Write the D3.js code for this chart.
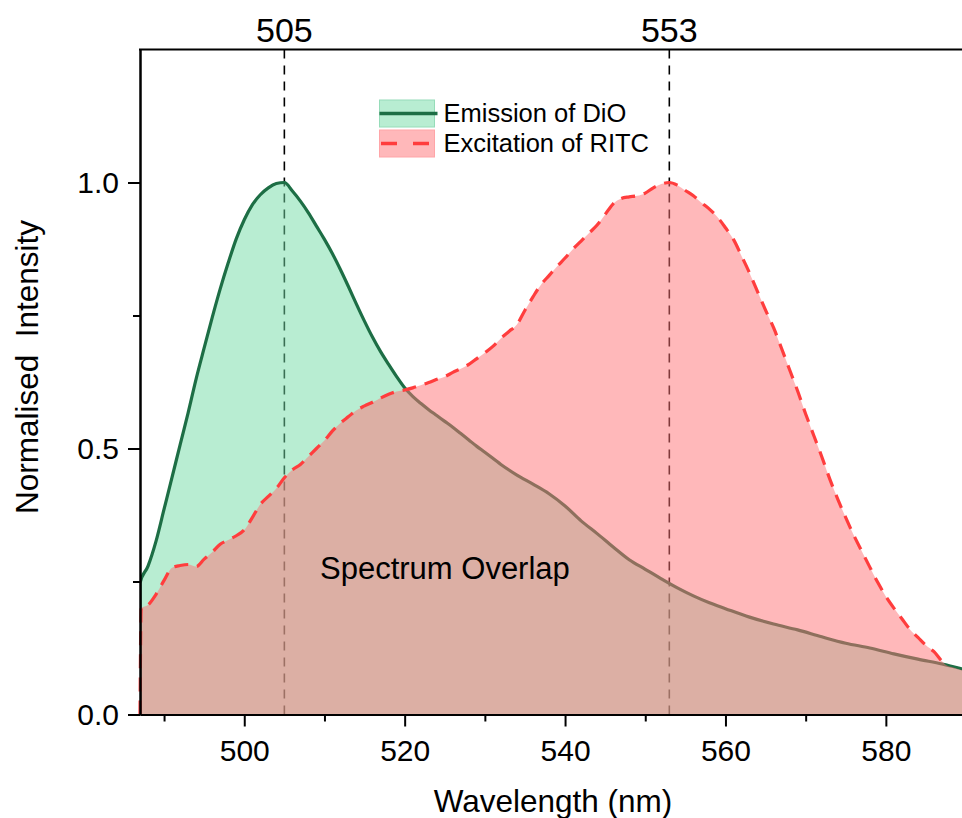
<!DOCTYPE html>
<html>
<head>
<meta charset="utf-8">
<script src="https://cdn.jsdelivr.net/npm/d3@7"></script>
<style>
    body { margin: 0; background: #fff; }
    svg { display: block; font-family: Arial, "Liberation Sans", sans-serif; }
</style>
</head>
<body>
<script>
const width = 962;
const height = 818;

// DiO emission
const dioWavelength = [487, 487, 488, 489, 490, 491, 492, 493, 494, 495, 496, 497, 498, 499, 500, 501, 502, 503, 504, 505,
    506, 507, 508, 509, 510, 511, 512, 513, 514, 515, 516, 517, 518, 519, 520, 521, 522, 523, 524, 525, 526, 527, 528, 529, 530,
    532, 534, 536, 538, 540, 542, 544, 546, 548, 550, 552, 554, 556, 558, 560, 563, 566, 569, 572, 575, 578, 581, 584, 587, 590];
const dioIntensity = [0, 0.247, 0.279, 0.326, 0.386, 0.446, 0.507, 0.567, 0.631, 0.689, 0.746, 0.800, 0.849, 0.894, 0.930, 0.958, 0.977, 0.990, 0.998, 1.0,
    0.984, 0.965, 0.943, 0.918, 0.893, 0.866, 0.836, 0.804, 0.771, 0.739, 0.709, 0.682, 0.658, 0.635, 0.614, 0.598, 0.585, 0.573, 0.562, 0.551, 0.540, 0.528, 0.516, 0.504, 0.493,
    0.470, 0.450, 0.433, 0.415, 0.392, 0.364, 0.340, 0.315, 0.291, 0.273, 0.255, 0.238, 0.223, 0.210, 0.199, 0.183, 0.170, 0.159, 0.146, 0.134, 0.125, 0.114, 0.104, 0.095, 0.084];

// RITC excitation; the last three points only carry the fill past the end of the dashed line
const ritcWavelength = [487, 487.15, 488, 489, 490, 491, 492, 493, 494, 495, 496, 497, 498, 499, 500, 501, 502, 503, 504, 505, 506, 507,
    508, 509, 510, 511, 512, 513, 514, 515, 516, 517, 518, 519, 520, 521, 522, 523, 524, 525, 526, 527, 528, 529, 530, 531, 532, 533, 534, 535,
    536, 537, 538, 539, 540, 541, 542, 543, 544, 545, 546, 547, 548, 549, 550, 551, 552, 553, 554, 555, 556, 557, 558, 559, 560, 561, 562, 563,
    564, 565, 566, 567, 568, 569, 570, 571, 572, 573, 574, 575, 576, 577, 578, 579, 580, 581, 582, 583, 584, 585, 586, 587, 587.5,
    588.5, 589.5, 590.5];
const ritcIntensity = [0, 0.2, 0.206, 0.226, 0.252, 0.276, 0.28, 0.282, 0.278, 0.292, 0.305, 0.32, 0.328, 0.336, 0.347, 0.37, 0.395, 0.41, 0.425, 0.445, 0.46, 0.47,
    0.485, 0.5, 0.515, 0.533, 0.548, 0.56, 0.572, 0.58, 0.587, 0.595, 0.602, 0.607, 0.61, 0.614, 0.619, 0.624, 0.63, 0.635, 0.643, 0.65, 0.658, 0.669, 0.68, 0.692, 0.707, 0.72, 0.733, 0.76,
    0.785, 0.808, 0.825, 0.842, 0.858, 0.875, 0.89, 0.905, 0.92, 0.94, 0.96, 0.97, 0.973, 0.975, 0.98, 0.99, 0.997, 1.0, 0.995, 0.985, 0.975, 0.962, 0.95, 0.935, 0.915, 0.893, 0.862, 0.83,
    0.795, 0.76, 0.727, 0.688, 0.648, 0.608, 0.565, 0.525, 0.485, 0.443, 0.405, 0.37, 0.337, 0.307, 0.277, 0.248, 0.222, 0.2, 0.18, 0.16, 0.145, 0.13, 0.118, 0.1, 0.093,
    0.088, 0.083, 0.079];
const ritcLineEnd = 587.5;

const xTicks = [500, 520, 540, 560, 580];
const xMinorTicks = [490, 510, 530, 550, 570, 590];
const yTicks = [0, 0.5, 1.0];
const yMinorTicks = [0.25, 0.75];
const peakWavelengths = [505, 553];
const seriesNames = ['Emission of DiO', 'Excitation of RITC'];

const margin = { top: 49.5, right: 0, bottom: 103.5, left: 140 };

const x = d3.scaleLinear()
    .domain([487, 590])
    .range([margin.left, margin.left + 103 * 8.02]);

const y = d3.scaleLinear()
    .domain([0, 1.25])
    .range([height - margin.bottom, margin.top]);

const dio = d3.zip(dioWavelength, dioIntensity);
const ritc = d3.zip(ritcWavelength, ritcIntensity);

const area = d3.area()
    .x(d => x(d[0]))
    .y0(y(0))
    .y1(d => y(d[1]))
    .curve(d3.curveMonotoneX);

const line = d3.line()
    .x(d => x(d[0]))
    .y(d => y(d[1]))
    .curve(d3.curveMonotoneX);

const svg = d3.select('body')
    .append('svg')
    .attr('width', width)
    .attr('height', height);

svg.append('defs')
    .append('clipPath')
    .attr('id', 'plot')
    .append('rect')
    .attr('x', margin.left)
    .attr('y', margin.top)
    .attr('width', width - margin.left)
    .attr('height', y(0) - margin.top);

const plot = svg.append('g')
    .attr('clip-path', 'url(#plot)');

// peak markers sit under the fills
plot.append('g')
    .selectAll('line')
    .data(peakWavelengths)
    .join('line')
    .attr('x1', d => x(d))
    .attr('x2', d => x(d))
    .attr('y1', y(1.25))
    .attr('y2', y(0))
    .attr('stroke', '#000')
    .attr('stroke-width', 1.6)
    .attr('stroke-dasharray', '9,7');

plot.append('path')
    .datum(dio)
    .attr('d', area)
    .attr('fill', 'rgb(113,219,165)')
    .attr('fill-opacity', 0.5);

plot.append('path')
    .datum(dio)
    .attr('d', line)
    .attr('fill', 'none')
    .attr('stroke', '#1d6e45')
    .attr('stroke-width', 3.2);

plot.append('path')
    .datum(ritc)
    .attr('d', area)
    .attr('fill', 'rgb(255,113,117)')
    .attr('fill-opacity', 0.5);

svg.append('path')
    .datum(ritc.filter(d => d[0] <= ritcLineEnd))
    .attr('d', line)
    .attr('fill', 'none')
    .attr('stroke', '#ff3d3d')
    .attr('stroke-width', 3.2)
    .attr('stroke-dasharray', '14,9');

// axes
const styleAxis = (g) => {
    g.select('.domain').attr('stroke-width', 2);
    g.selectAll('.tick line').attr('stroke-width', 2);
    g.selectAll('.tick text').attr('font-size', 30).attr('fill', '#000');
    g.attr('font-family', null);
};

svg.append('g')
    .attr('transform', `translate(0,${y(0)})`)
    .call(d3.axisBottom(x).tickValues(xMinorTicks).tickSize(7).tickSizeOuter(0).tickFormat(''))
    .call(styleAxis);

svg.append('g')
    .attr('transform', `translate(0,${y(0)})`)
    .call(d3.axisBottom(x).tickValues(xTicks).tickSize(12).tickSizeOuter(0).tickPadding(13).tickFormat(d3.format('d')))
    .call(styleAxis);

svg.append('g')
    .attr('transform', `translate(${margin.left},0)`)
    .call(d3.axisLeft(y).tickValues(yMinorTicks).tickSize(7).tickSizeOuter(0).tickFormat(''))
    .call(styleAxis);

svg.append('g')
    .attr('transform', `translate(${margin.left},0)`)
    .call(d3.axisLeft(y).tickValues(yTicks).tickSize(12).tickSizeOuter(0).tickPadding(9).tickFormat(d3.format('.1f')))
    .call(styleAxis);

// top axis with the two peak labels
svg.append('line')
    .attr('x1', margin.left - 1)
    .attr('x2', width)
    .attr('y1', y(1.25))
    .attr('y2', y(1.25))
    .attr('stroke', '#000')
    .attr('stroke-width', 2);

svg.append('g')
    .selectAll('text')
    .data(peakWavelengths)
    .join('text')
    .attr('x', d => x(d))
    .attr('y', 42)
    .attr('text-anchor', 'middle')
    .attr('font-size', 34)
    .text(d => d);

svg.append('text')
    .attr('transform', `translate(38,367) rotate(-90)`)
    .attr('text-anchor', 'middle')
    .attr('font-size', 31.5)
    .style('white-space', 'pre')
    .text('Normalised  Intensity');

svg.append('text')
    .attr('x', 553)
    .attr('y', 812)
    .attr('text-anchor', 'middle')
    .attr('font-size', 31.5)
    .text('Wavelength (nm)');

svg.append('text')
    .attr('x', 320)
    .attr('y', 579)
    .attr('font-size', 31)
    .text('Spectrum Overlap');

// legend
const legend = svg.append('g')
    .attr('transform', 'translate(379.5,100)');

legend.append('rect')
    .attr('width', 55)
    .attr('height', 27)
    .attr('fill', 'rgb(184,237,210)')
    .attr('stroke', 'rgb(150,220,185)');

legend.append('line')
    .attr('x1', 0)
    .attr('x2', 58)
    .attr('y1', 13.5)
    .attr('y2', 13.5)
    .attr('stroke', '#1d6e45')
    .attr('stroke-width', 3.5);

legend.append('rect')
    .attr('y', 30)
    .attr('width', 55)
    .attr('height', 27)
    .attr('fill', 'rgb(255,184,186)')
    .attr('stroke', 'rgb(255,165,168)');

legend.append('line')
    .attr('x1', 1.5)
    .attr('x2', 52)
    .attr('y1', 43.5)
    .attr('y2', 43.5)
    .attr('stroke', '#ff3d3d')
    .attr('stroke-width', 3.5)
    .attr('stroke-dasharray', '16,16');

legend.selectAll('text')
    .data(seriesNames)
    .join('text')
    .attr('x', 64)
    .attr('y', (d, i) => 22 + i * 30)
    .attr('font-size', 25.5)
    .text(d => d);
</script>
</body>
</html>
